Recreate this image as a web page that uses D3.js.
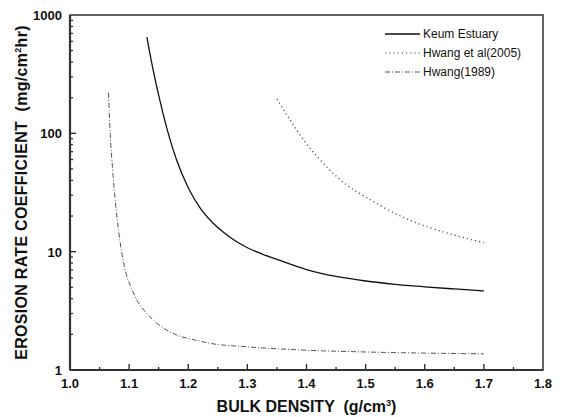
<!DOCTYPE html>
<html>
<head>
<meta charset="utf-8">
<script src="https://d3js.org/d3.v7.min.js"></script>
<style>
body { margin: 0; background: #fff; }
text { font-family: Arial, 'Liberation Sans', sans-serif; fill: #111; }
.tick-label { font-size: 13px; font-weight: bold; }
.title { font-size: 16px; font-weight: bold; white-space: pre; }
.legend { font-size: 12px; }
</style>
</head>
<body>
<svg width="562" height="417"></svg>
<script>

// values
var keumX = [1.13, 1.14, 1.15, 1.165, 1.18, 1.2, 1.22, 1.24, 1.26, 1.28, 1.3, 1.325, 1.35, 1.4, 1.45, 1.5, 1.55, 1.6, 1.65, 1.7];
var keumY = [650, 355, 209, 105, 60, 34.7, 23.4, 17.8, 14.5, 12.3, 10.8, 9.55, 8.6, 7.05, 6.17, 5.65, 5.3, 5.05, 4.84, 4.65];

var hwang05X = [1.35, 1.37, 1.395, 1.42, 1.445, 1.47, 1.5, 1.55, 1.581, 1.6, 1.65, 1.7];
var hwang05Y = [195, 135, 88, 62, 46, 36, 29, 21, 17.9, 16.5, 13.8, 11.9];

var hwang89X = [1.065, 1.068, 1.072, 1.076, 1.085, 1.095, 1.104, 1.113, 1.13, 1.147, 1.18, 1.21, 1.237, 1.3, 1.4, 1.5, 1.6, 1.7];
var hwang89Y = [220, 100, 50, 29, 11.8, 6.5, 4.9, 3.9, 3.0, 2.48, 1.98, 1.8, 1.68, 1.57, 1.47, 1.42, 1.39, 1.37];

var xTicks = [1.0, 1.1, 1.2, 1.3, 1.4, 1.5, 1.6, 1.7, 1.8];
var yTicks = [1, 10, 100, 1000];
var seriesNames = ['Keum Estuary', 'Hwang et al(2005)', 'Hwang(1989)'];

var pLeft = 70, pRight = 543, pTop = 15, pBottom = 370;

var svg = d3.select('svg');

var x = d3.scaleLinear().domain([1.0, 1.8]).range([pLeft, pRight]);
var y = d3.scaleLog().domain([1, 1000]).range([pBottom, pTop]);

// minor ticks
var xMinor = d3.range(1.05, 1.8, 0.1);
var yMinor = [];
[1, 10, 100].forEach(function(d) {
  for (var i = 2; i <= 9; i++) yMinor.push(d * i);
});

var axisG = svg.append('g').attr('stroke', '#222');

// bottom ticks (pointing in)
axisG.selectAll('.xt').data(xTicks.slice(1, -1)).enter().append('line')
  .attr('x1', function(d) { return x(d); }).attr('x2', function(d) { return x(d); })
  .attr('y1', pBottom).attr('y2', pBottom - 6).attr('stroke-width', 1.3);
axisG.selectAll('.xm').data(xMinor).enter().append('line')
  .attr('x1', function(d) { return x(d); }).attr('x2', function(d) { return x(d); })
  .attr('y1', pBottom).attr('y2', pBottom - 3).attr('stroke-width', 1.3);

// left ticks
axisG.selectAll('.yt').data(yTicks.slice(1, -1)).enter().append('line')
  .attr('y1', function(d) { return y(d); }).attr('y2', function(d) { return y(d); })
  .attr('x1', pLeft).attr('x2', pLeft + 6).attr('stroke-width', 1.3);
axisG.selectAll('.ym').data(yMinor).enter().append('line')
  .attr('y1', function(d) { return y(d); }).attr('y2', function(d) { return y(d); })
  .attr('x1', pLeft).attr('x2', pLeft + 3).attr('stroke-width', 1.2);

// frame
svg.append('rect')
  .attr('x', pLeft).attr('y', pTop)
  .attr('width', pRight - pLeft).attr('height', pBottom - pTop)
  .attr('fill', 'none').attr('stroke', '#222').attr('stroke-width', 1.4);
svg.append('line').attr('x1', pLeft).attr('x2', pLeft).attr('y1', pTop).attr('y2', pBottom)
  .attr('stroke', '#333').attr('stroke-width', 2.2);
svg.append('line').attr('x1', pLeft).attr('x2', pRight).attr('y1', pBottom).attr('y2', pBottom)
  .attr('stroke', '#333').attr('stroke-width', 2.2);

// tick labels
svg.selectAll('.xl').data(xTicks).enter().append('text')
  .attr('class', 'tick-label')
  .attr('x', function(d) { return x(d); })
  .attr('y', pBottom + 18)
  .attr('text-anchor', 'middle')
  .text(function(d) { return d.toFixed(1); });

svg.selectAll('.yl').data(yTicks).enter().append('text')
  .attr('class', 'tick-label')
  .attr('x', pLeft - 8)
  .attr('y', function(d) { return y(d) + 5; })
  .attr('text-anchor', 'end')
  .text(function(d) { return d; });

// axis titles
var xt = svg.append('text').attr('class', 'title')
  .attr('x', (pLeft + pRight) / 2).attr('y', 412).attr('text-anchor', 'middle');
xt.append('tspan').text('BULK DENSITY  (g/cm');
xt.append('tspan').attr('dy', -6).style('font-size', '9px').text('3');
xt.append('tspan').attr('dy', 6).text(')');

var yt = svg.append('text').attr('class', 'title')
  .attr('transform', 'translate(27,' + ((pTop + pBottom) / 2) + ') rotate(-90)')
  .attr('text-anchor', 'middle')
  .style('letter-spacing', '0.3px');
yt.append('tspan').text('EROSION RATE COEFFICIENT  (mg/cm');
yt.append('tspan').attr('dy', -6).style('font-size', '9px').text('2');
yt.append('tspan').attr('dy', 6).text('hr)');

// curves
var line = d3.line()
  .x(function(d) { return x(d[0]); })
  .y(function(d) { return y(d[1]); })
  .curve(d3.curveMonotoneX);

var styles = [
  { stroke: '#111', width: 1.3, dash: null },
  { stroke: '#444', width: 1.2, dash: '1.2,3' },
  { stroke: '#555', width: 1, dash: '5,2,1,2' }
];

var series = [
  d3.zip(keumX, keumY),
  d3.zip(hwang05X, hwang05Y),
  d3.zip(hwang89X, hwang89Y)
];

svg.selectAll('.curve').data(series).enter().append('path')
  .attr('d', line)
  .attr('fill', 'none')
  .attr('stroke', function(d, i) { return styles[i].stroke; })
  .attr('stroke-width', function(d, i) { return styles[i].width; })
  .attr('stroke-dasharray', function(d, i) { return styles[i].dash; });

// legend
var lg = svg.append('g');
seriesNames.forEach(function(name, i) {
  var ly = 34 + i * 19;
  lg.append('line')
    .attr('x1', 385).attr('x2', 420).attr('y1', ly).attr('y2', ly)
    .attr('stroke', styles[i].stroke)
    .attr('stroke-width', styles[i].width)
    .attr('stroke-dasharray', styles[i].dash);
  lg.append('text').attr('class', 'legend')
    .attr('x', 423).attr('y', ly + 4)
    .text(name);
});

</script>
</body>
</html>
